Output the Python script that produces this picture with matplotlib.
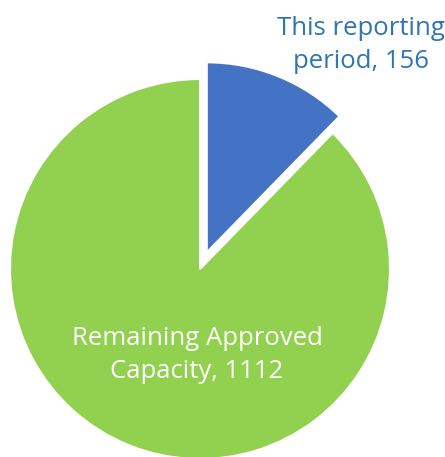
import matplotlib.pyplot as plt

# data
categories = ['This reporting\nperiod', 'Remaining Approved\nCapacity']
values = [156, 1112]
colors = ['#4472C4', '#92D050']
label_colors = ['#2E75B6', 'white']

fig = plt.figure(figsize=(4.45, 4.57), dpi=100)
ax = fig.add_axes([0, 0, 1, 1])

# pixel-like coordinates, y up (explode is absolute here)
wedges, _ = ax.pie(values, colors=colors, startangle=90, counterclock=False,
                   explode=[18, 0], radius=190, center=(200, 188),
                   wedgeprops={'edgecolor': 'white', 'linewidth': 1.5})

ax.set_xlim(0, 445)
ax.set_ylim(0, 457)
ax.set_aspect('equal')
ax.axis('off')

label_pos = [(361, 412), (197, 102)]
for cat, v, c, (x, y) in zip(categories, values, label_colors, label_pos):
    ax.text(x, y, f'{cat}, {v}', ha='center', va='center', color=c,
            fontsize=18.5, family='Open Sans', linespacing=1.38)

fig.savefig('out.png', dpi=100)
